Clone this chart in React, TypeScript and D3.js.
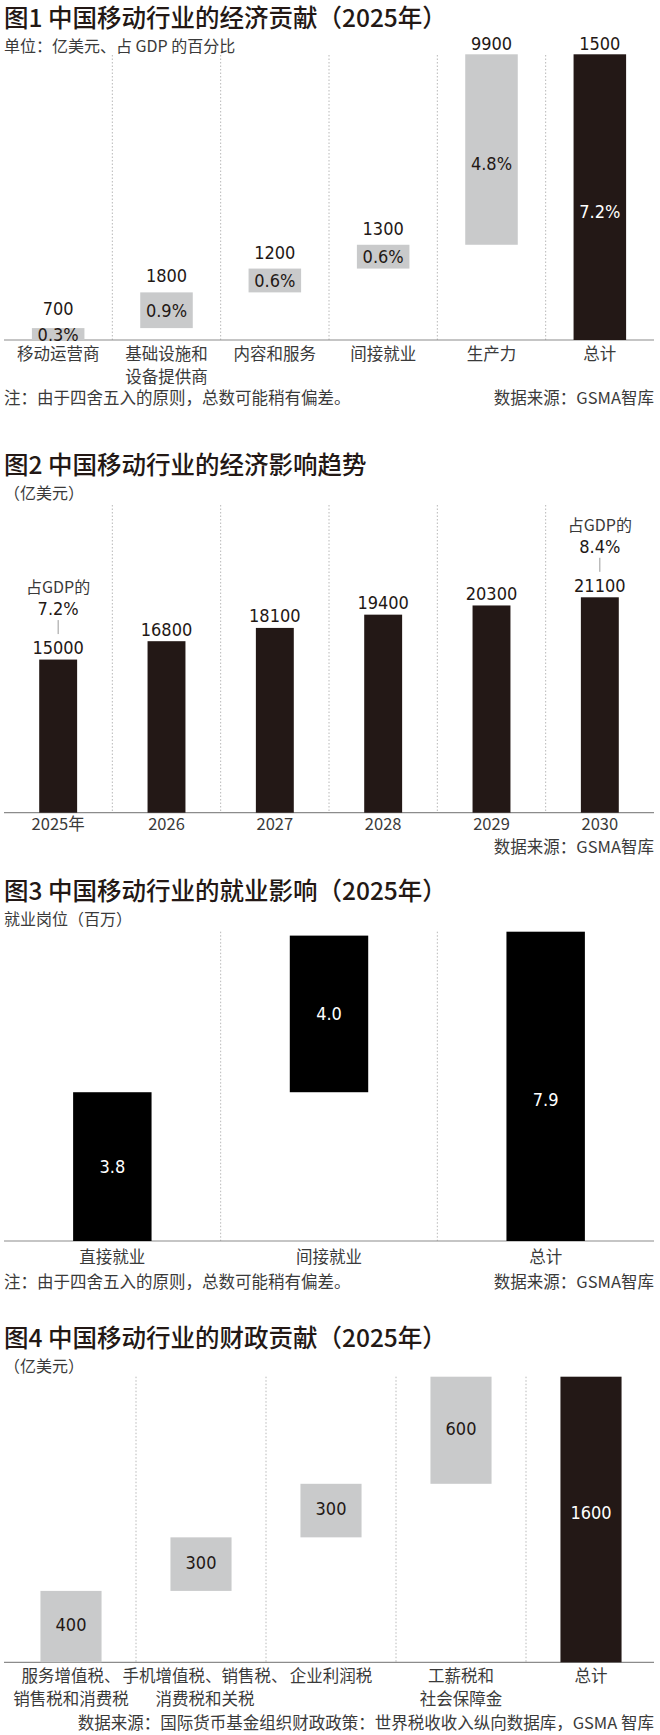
import * as d3 from "d3";

const W = 660, H = 1735;
const INK = "#231815";
const DARK = "#231816";
const GREY = "#c9cacb";
const LABEL = "#3a3a3a";
const CJK = '"Noto Sans CJK SC", "Noto Sans", sans-serif';
const NUM = '"DejaVu Sans Condensed", "DejaVu Sans", Roboto, sans-serif';
const SRC = "数据来源：GSMA智库";
const NOTE = "注：由于四舍五入的原则，总数可能稍有偏差。";

// 图1 经济贡献（占GDP %），最后一项为总计
const contribCats = [["移动运营商"], ["基础设施和", "设备提供商"], ["内容和服务"], ["间接就业"], ["生产力"], ["总计"]];
const contribPct = [0.3, 0.9, 0.6, 0.6, 4.8, 7.2];
const contribUsd = ["700", "1800", "1200", "1300", "9900", "1500"];

// 图2 经济影响趋势（亿美元）
const years = ["2025年", "2026", "2027", "2028", "2029", "2030"];
const impact = [15000, 16800, 18100, 19400, 20300, 21100];
const gdpShare = ["7.2%", "", "", "", "", "8.4%"];

// 图3 就业影响（百万）
const jobCats = ["直接就业", "间接就业", "总计"];
const jobs = [3.8, 4.0, 7.9];

// 图4 财政贡献（亿美元）
const fiscalCats = [["服务增值税、", "销售税和消费税"], ["手机增值税、销售税、", "消费税和关税"], ["企业利润税"], ["工薪税和", "社会保障金"], ["总计"]];
const fiscal = [400, 300, 300, 600, 1600];

function waterfall(vals: number[]) {
  let cum = 0;
  return vals.map((v, i) => {
    if (i === vals.length - 1) return [0, v];
    const s = [cum, cum + v];
    cum += v;
    return s;
  });
}

function band(n: number, r: [number, number], p: number) {
  return d3.scaleBand<number>().domain(d3.range(n)).range(r).paddingInner(p).paddingOuter(p / 2);
}

function Frame({ x, top, base, n, left = 4, right = 654 }: any) {
  const gap = (x.step() - x.bandwidth()) / 2;
  return (
    <g>
      {d3.range(1, n).map((i) => {
        const sx = x(i) - gap;
        return <line key={i} x1={sx} x2={sx} y1={top} y2={base} stroke="#b8b8b8" strokeWidth={1} strokeDasharray="1.5 2" />;
      })}
      <line x1={left} x2={right} y1={base} y2={base} stroke="#8c8c8c" strokeWidth={1.2} />
    </g>
  );
}

function Head({ title, sub, y }: { title: string; sub: string; y: number }) {
  return (
    <g fontFamily={CJK}>
      <text x={4} y={y} fontSize={24.5} fontWeight={500} fill={INK}>{title}</text>
      <text x={4} y={y + 25} fontSize={16} fill={LABEL}>{sub}</text>
    </g>
  );
}

function Fig1() {
  const x = band(contribPct.length, [4, 654], 0.515);
  const y = d3.scaleLinear().domain([0, 7.2]).range([340, 54.3]);
  const segs = waterfall(contribPct);
  const last = contribPct.length - 1;
  return (
    <g>
      <Head title="图1 中国移动行业的经济贡献（2025年）" sub="单位：亿美元、占 GDP 的百分比" y={26.5} />
      <Frame x={x} top={55} base={340} n={contribPct.length} />
      {segs.map(([s, e], i) => {
        const top = y(e), h = y(s) - y(e);
        const cx = x(i)! + x.bandwidth() / 2;
        return (
          <g key={i}>
            <rect x={x(i)} y={top} width={x.bandwidth()} height={h} fill={i === last ? DARK : GREY} />
            <text x={cx} y={Math.max(top - (h < 20 ? 13 : 10), 50)} textAnchor="middle" fontFamily={NUM} fontSize={18} fill={INK}>{contribUsd[i]}</text>
            <text x={cx} y={top + h / 2 + (h > 100 ? 14 : 0)} dy="0.36em" textAnchor="middle" fontFamily={NUM} fontSize={18}
              fill={i === last ? "#fff" : INK}>{d3.format(".1f")(contribPct[i])}%</text>
          </g>
        );
      })}
      <g fontFamily={CJK} fontSize={16.5} fill={LABEL} textAnchor="middle">
        {contribCats.map((lines, i) => lines.map((t, j) => (
          <text key={i + "-" + j} x={x(i)! + x.bandwidth() / 2} y={360 + j * 22.5}>{t}</text>
        )))}
      </g>
      <text x={4} y={404} fontFamily={CJK} fontSize={16.5} fill={LABEL}>{NOTE}</text>
      <text x={654} y={404} textAnchor="end" fontFamily={CJK} fontSize={16.5} fill={LABEL}>{SRC}</text>
    </g>
  );
}

function Fig2() {
  const x = band(impact.length, [4, 654], 0.65);
  const y = d3.scaleLinear().domain([0, 21100]).range([812.7, 597.3]);
  return (
    <g>
      <Head title="图2 中国移动行业的经济影响趋势" sub="（亿美元）" y={473.5} />
      <Frame x={x} top={505} base={812.7} n={impact.length} />
      {impact.map((v, i) => {
        const cx = x(i)! + x.bandwidth() / 2;
        const lb = y(v) - 5.5;
        return (
          <g key={i}>
            <rect x={x(i)} y={y(v)} width={x.bandwidth()} height={y(0) - y(v)} fill={DARK} />
            <text x={cx} y={lb} textAnchor="middle" fontFamily={NUM} fontSize={18} fill={INK}>{v}</text>
            {gdpShare[i] && (
              <g>
                <line x1={cx} x2={cx} y1={lb - 34} y2={lb - 20} stroke="#9a9a9a" strokeWidth={1} />
                <text x={cx} y={lb - 39} textAnchor="middle" fontFamily={NUM} fontSize={18} fill={INK}>{gdpShare[i]}</text>
                <text x={cx} y={lb - 61} textAnchor="middle" fontFamily={CJK} fontSize={16} fill={LABEL}>占GDP的</text>
              </g>
            )}
            <text x={cx} y={830} textAnchor="middle" fontFamily={CJK} fontSize={16.5} fill={LABEL}>{years[i]}</text>
          </g>
        );
      })}
      <text x={654} y={852.5} textAnchor="end" fontFamily={CJK} fontSize={16.5} fill={LABEL}>{SRC}</text>
    </g>
  );
}

function Fig3() {
  const x = band(jobs.length, [4, 654], 0.638);
  const y = d3.scaleLinear().domain([0, 7.9]).range([1241, 931.7]);
  const segs = waterfall(jobs);
  return (
    <g>
      <Head title="图3 中国移动行业的就业影响（2025年）" sub="就业岗位（百万）" y={900} />
      <Frame x={x} top={931.7} base={1241} n={jobs.length} />
      {segs.map(([s, e], i) => {
        const top = y(e), h = y(s) - y(e);
        const cx = x(i)! + x.bandwidth() / 2;
        return (
          <g key={i}>
            <rect x={x(i)} y={top} width={x.bandwidth()} height={h} fill="#000" />
            <text x={cx} y={top + h / 2 + (h > 250 ? 13 : 0)} dy="0.36em" textAnchor="middle" fontFamily={NUM} fontSize={18} fill="#fff">
              {d3.format(".1f")(jobs[i])}
            </text>
            <text x={cx} y={1262.5} textAnchor="middle" fontFamily={CJK} fontSize={16.5} fill={LABEL}>{jobCats[i]}</text>
          </g>
        );
      })}
      <text x={4} y={1287.5} fontFamily={CJK} fontSize={16.5} fill={LABEL}>{NOTE}</text>
      <text x={654} y={1287.5} textAnchor="end" fontFamily={CJK} fontSize={16.5} fill={LABEL}>{SRC}</text>
    </g>
  );
}

function Fig4() {
  const x = band(fiscal.length, [6, 656], 0.53);
  const y = d3.scaleLinear().domain([0, 1600]).range([1662.3, 1376.7]);
  const segs = waterfall(fiscal);
  const last = fiscal.length - 1;
  return (
    <g>
      <Head title="图4 中国移动行业的财政贡献（2025年）" sub="（亿美元）" y={1346.6} />
      <Frame x={x} top={1376.7} base={1662.3} n={fiscal.length} />
      {segs.map(([s, e], i) => {
        const top = y(e), h = y(s) - y(e);
        const cx = x(i)! + x.bandwidth() / 2;
        return (
          <g key={i}>
            <rect x={x(i)} y={top} width={x.bandwidth()} height={h} fill={i === last ? DARK : GREY} />
            <text x={cx} y={top + h / 2 - (i === last ? 7 : 2)} dy="0.36em" textAnchor="middle" fontFamily={NUM} fontSize={18}
              fill={i === last ? "#fff" : INK}>{fiscal[i]}</text>
          </g>
        );
      })}
      <g fontFamily={CJK} fontSize={16.5} fill={LABEL} textAnchor="middle">
        {fiscalCats.map((lines, i) => lines.map((t, j) => (
          <text key={i + "-" + j} x={x(i)! + x.bandwidth() / 2 + (i === 1 ? 4 : 0)} y={1682 + j * 22.5}>{t}</text>
        )))}
      </g>
      <text x={654} y={1729} textAnchor="end" fontFamily={CJK} fontSize={16.5} fill={LABEL}>
        数据来源：国际货币基金组织财政政策：世界税收收入纵向数据库，GSMA 智库
      </text>
    </g>
  );
}

export default function App() {
  return (
    <>
      <style>{`body{margin:0;background:#fff}`}</style>
      <svg width={W} height={H} style={{ display: "block", background: "#fff" }}>
        <Fig1 />
        <Fig2 />
        <Fig3 />
        <Fig4 />
      </svg>
    </>
  );
}
